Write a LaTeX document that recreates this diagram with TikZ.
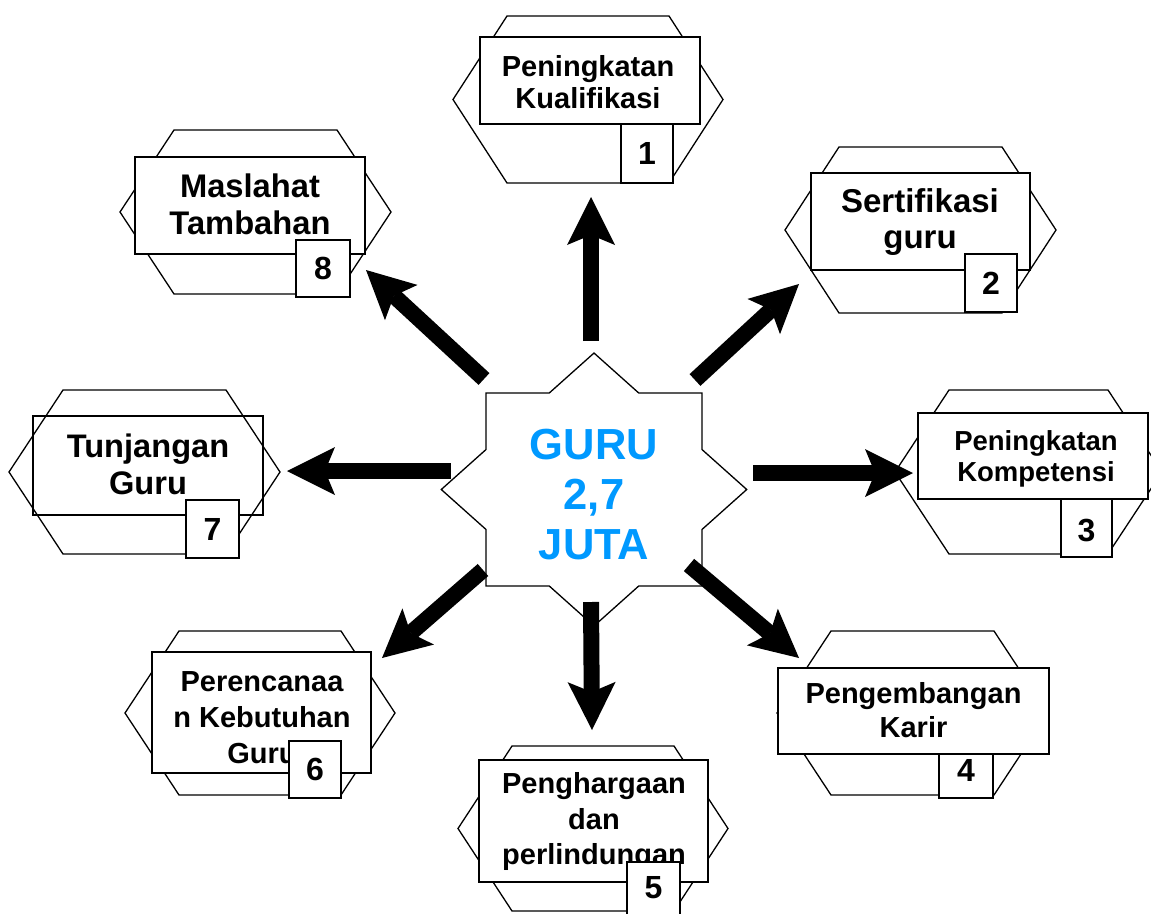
\documentclass[tikz,border=0pt]{standalone}
\usepackage{fontspec}
\setmainfont{Liberation Sans}
\usetikzlibrary{arrows.meta}
\definecolor{gurublue}{RGB}{0,153,255}
\newcommand\hexshape[4]{\draw[hexa] (#1,{(#2+#4)/2}) -- ({#1+54},#2) -- ({#3-54},#2) -- (#3,{(#2+#4)/2}) -- ({#3-54},#4) -- ({#1+54},#4) -- cycle;}
\tikzset{
  hexa/.style={draw=black, line width=1.3pt, line join=miter},
  rbox/.style={draw=black, line width=1.6pt, fill=white, inner sep=0pt},
  rboxopen/.style={draw=black, line width=1.6pt, inner sep=0pt},
  nbox/.style={draw=black, line width=1.6pt, fill=white, inner sep=0pt},
  numtxt/.style={inner sep=0pt, font=\fontsize{32}{36}\selectfont\bfseries},
  lbl/.style={align=center, inner sep=0pt},
  bigarrow/.style={line width=16pt, -{Stealth[length=48pt, width=48pt, inset=10pt, line width=0pt]}},
}
\begin{document}
\begin{tikzpicture}[x=1pt, y=-1pt]
\useasboundingbox (0,0) rectangle (1151,913);
\fill[white] (0,0) rectangle (1151,913);

% ---- hexagons ----
\hexshape{453}{16}{723}{183}
\hexshape{785}{147}{1056}{313}
\hexshape{895}{390}{1162}{554}
\hexshape{777}{631}{1048}{795}
\hexshape{458}{746}{728}{911}
\hexshape{125}{631}{395}{795}
\hexshape{9}{390}{280}{554}
\hexshape{120}{130}{391}{294}

% ---- centre star ----
\begin{scope}[shift={(594,489.5)}, x=108pt, y=-96.5pt]
\draw[line width=1.3pt, fill=white] (0,-1.4142) -- (0.4142,-1) -- (1,-1) -- (1,-0.4142) -- (1.4142,0) -- (1,0.4142) -- (1,1) -- (0.4142,1) -- (0,1.4142) -- (-0.4142,1) -- (-1,1) -- (-1,0.4142) -- (-1.4142,0) -- (-1,-0.4142) -- (-1,-1) -- (-0.4142,-1) -- cycle;
\end{scope}
\node[lbl, text=gurublue, font=\fontsize{43.5}{50}\selectfont\bfseries] (guru) at (594,495) {GURU\\2,7\\JUTA};

% ---- box 4 number box lies behind its rectangle ----
\node[nbox, minimum width=54pt, minimum height=58pt] (n4) at (966,769) {};

% ---- rectangles ----
\node[rbox, minimum width=220pt, minimum height=87pt] (r1) at (590,80.5) {};
\node[rbox, minimum width=219pt, minimum height=97pt] (r2) at (920.5,221.5) {};
\node[rbox, minimum width=230pt, minimum height=86pt] (r3) at (1033,456) {};
\node[rbox, minimum width=271pt, minimum height=86pt] (r4) at (913.5,711) {};
\node[rbox, minimum width=229pt, minimum height=122pt] (r5) at (593.5,821) {};
\node[rbox, minimum width=219pt, minimum height=121pt] (r6) at (261.5,712.5) {};
\node[rboxopen, minimum width=230pt, minimum height=99pt] (r7) at (148,465.5) {};
\node[rbox, minimum width=230pt, minimum height=97pt] (r8) at (250,205.5) {};

% ---- labels ----
\node[lbl, font=\fontsize{29}{32}\selectfont\bfseries] (t1) at (588,82) {Peningkatan\\Kualifikasi};
\node[lbl, font=\fontsize{33}{36}\selectfont\bfseries] (t2) at (920,222) {Sertifikasi\\guru};
\node[lbl, font=\fontsize{27.5}{31}\selectfont\bfseries] (t3) at (1036,459) {Peningkatan\\Kompetensi};
\node[lbl, font=\fontsize{29}{34}\selectfont\bfseries] (t4) at (913.5,710.5) {Pengembangan\\Karir};
\node[lbl, font=\fontsize{29}{35.5}\selectfont\bfseries] (t5) at (594,822) {Penghargaan\\dan\\perlindungan};
\node[lbl, font=\fontsize{29}{36}\selectfont\bfseries] (t6) at (262,717.5) {Perencanaa\\n Kebutuhan\\Guru};
\node[lbl, font=\fontsize{32.6}{37.5}\selectfont\bfseries] (t7) at (148,464.5) {Tunjangan\\Guru};
\node[lbl, font=\fontsize{32.7}{37}\selectfont\bfseries] (t8) at (250,204) {Maslahat\\Tambahan};

% ---- number boxes ----
\node[nbox, minimum width=52pt, minimum height=59pt] (n1) at (647,153.5) {};
\node[nbox, minimum width=52pt, minimum height=58pt] (n2) at (991,283) {};
\node[nbox, minimum width=51pt, minimum height=58pt] (n3) at (1086.5,528) {};
\node[nbox, minimum width=53pt, minimum height=58pt] (n5) at (653.5,891) {};
\node[nbox, minimum width=52pt, minimum height=57pt] (n6) at (315,769.5) {};
\node[nbox, minimum width=53pt, minimum height=58pt] (n7) at (212.5,529) {};
\node[nbox, minimum width=54pt, minimum height=57pt] (n8) at (323,268.5) {};

\node[numtxt] at (n1) {1};
\node[numtxt] at (n2) {2};
\node[numtxt] at (1086.5,531) {3};
\node[numtxt] at (966,770) {4};
\node[numtxt] at (653.5,888) {5};
\node[numtxt] at (n6) {6};
\node[numtxt] at (n7) {7};
\node[numtxt] at (n8) {8};

% ---- arrows ----
\coordinate (a1s) at (591,341); \coordinate (a1e) at (591,197);
\coordinate (a2s) at (695,380); \coordinate (a2e) at (799,284);
\coordinate (a3s) at (753,473); \coordinate (a3e) at (913,473);
\coordinate (a4s) at (689,565); \coordinate (a4e) at (799,658);
\coordinate (a5s) at (591,602); \coordinate (a5e) at (592,730);
\coordinate (a6s) at (483,570); \coordinate (a6e) at (382,658);
\coordinate (a7s) at (451,471); \coordinate (a7e) at (287,471);
\coordinate (a8s) at (484,379); \coordinate (a8e) at (366,270);
\foreach \i in {1,...,8} {\draw[bigarrow] (a\i s) -- (a\i e);}
\end{tikzpicture}
\end{document}
